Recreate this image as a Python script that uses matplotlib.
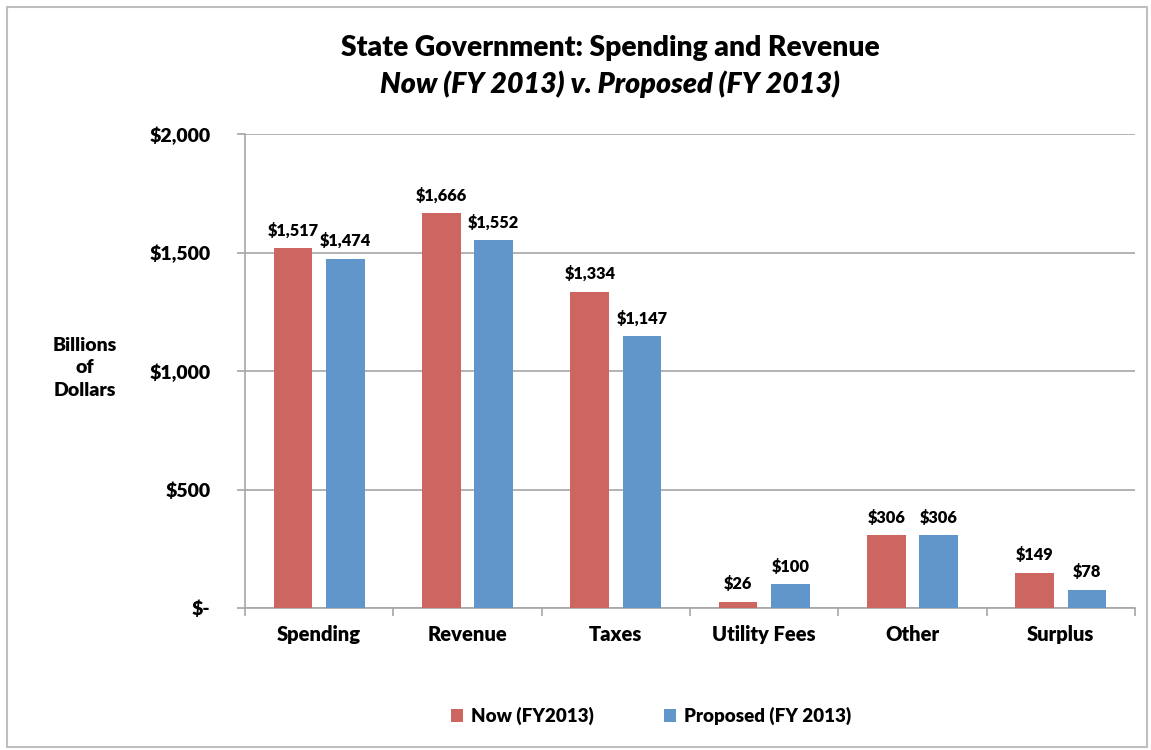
import matplotlib
matplotlib.use("Agg")
import matplotlib.pyplot as plt
import numpy as np
from matplotlib.patches import Rectangle
from matplotlib.ticker import FixedLocator, FuncFormatter

categories = ["Spending", "Revenue", "Taxes", "Utility Fees", "Other", "Surplus"]
now_fy2013 = [1517, 1666, 1334, 26, 306, 149]
proposed_fy2013 = [1474, 1552, 1147, 100, 306, 78]
series_labels = ["Now (FY2013)", "Proposed (FY 2013)"]
y_ticks = [0, 500, 1000, 1500, 2000]

RED = "#CD6560"
BLUE = "#6096C9"
GRID = "#A6A6A6"
W = "heavy"

plt.rcParams["font.family"] = ["Lato", "DejaVu Sans"]
plt.rcParams["font.weight"] = W

fig = plt.figure(figsize=(11.51, 7.5), dpi=100)
ax = fig.add_axes([245 / 1151, 1 - 608 / 750, 890 / 1151, 474 / 750])

x = np.arange(len(categories))
width = 0.26
offset = 0.176

bars_now = ax.bar(x - offset, now_fy2013, width, color=RED, label=series_labels[0], zorder=3)
bars_prop = ax.bar(x + offset, proposed_fy2013, width, color=BLUE, label=series_labels[1], zorder=3)

for bars in (bars_now, bars_prop):
    for b in bars:
        v = b.get_height()
        ax.annotate(f"${v:,.0f}", (b.get_x() + b.get_width() / 2, v),
                    xytext=(0, 7), textcoords="offset points",
                    ha="center", va="bottom", fontsize=11.8, fontweight=W)

ax.set_xlim(-0.5, len(categories) - 0.5)
ax.set_ylim(0, 2000)

ax.yaxis.set_major_locator(FixedLocator(y_ticks))
ax.yaxis.set_major_formatter(FuncFormatter(lambda v, p: "$-" if v == 0 else f"${v:,.0f}"))
ax.grid(axis="y", color=GRID, linewidth=1.2, zorder=0)
ax.tick_params(axis="y", length=6, color=GRID, width=1.2, pad=19, labelsize=14)

ax.set_xticks(x)
ax.set_xticklabels(categories, fontsize=14.5, fontweight=W)
ax.tick_params(axis="x", length=0, pad=12)
# category boundary ticks below the baseline
ax.set_xticks(np.arange(-0.5, len(categories)), minor=True)
ax.tick_params(axis="x", which="minor", length=6, color=GRID, width=1.2, direction="out")

for s in ("top", "right"):
    ax.spines[s].set_visible(False)
for s in ("left", "bottom"):
    ax.spines[s].set_color(GRID)
    ax.spines[s].set_linewidth(1.2)

for lbl in ax.get_yticklabels():
    lbl.set_fontweight(W)

fig.text(85 / 1151, 1 - 368 / 750, "Billions\nof\nDollars", ha="center", va="center",
         fontsize=14, fontweight=W, linespacing=1.4)

fig.text(610 / 1151, 1 - 48 / 750, "State Government: Spending and Revenue",
         ha="center", va="center", fontsize=20.3, fontweight=W)
fig.text(610 / 1151, 1 - 84 / 750, "Now (FY 2013) v. Proposed (FY 2013)",
         ha="center", va="center", fontsize=20.6, fontweight=W, style="italic")

fig.legend(handles=[bars_now, bars_prop], labels=series_labels, loc="center",
           bbox_to_anchor=(651 / 1151, 1 - 716 / 750), ncol=2, frameon=False,
           prop={"size": 13.5, "weight": W}, handlelength=0.65, handleheight=0.65,
           handletextpad=0.4, columnspacing=3.75)

fig.patches.append(Rectangle((7 / 1151, 3 / 750), 1140 / 1151, 740 / 750,
                             transform=fig.transFigure, fill=False,
                             edgecolor="#BFBFBF", linewidth=1.5))

fig.savefig("out.png", dpi=100, facecolor="white")
